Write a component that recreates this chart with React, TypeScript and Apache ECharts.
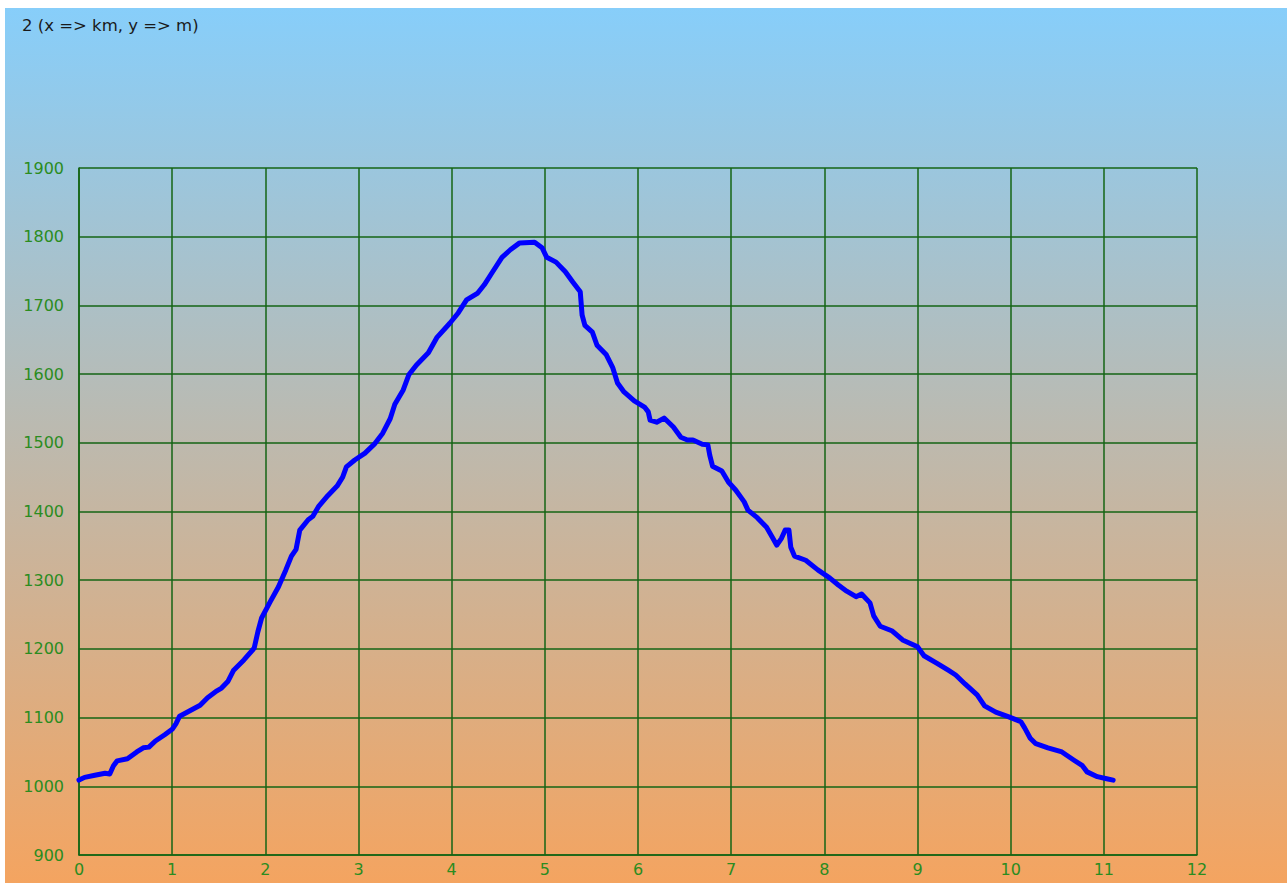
import React, { useEffect, useRef } from "react";
import * as echarts from "echarts";

const titleText = "2 (x => km, y => m)";
const xTicks = { min: 0, max: 12, interval: 1 };
const yTicks = { min: 900, max: 1900, interval: 100 };

const distanceKm = [
  0, 0.06, 0.17, 0.28, 0.33, 0.37, 0.41, 0.52, 0.62, 0.69, 0.75, 0.82, 0.92, 1.0, 1.04, 1.08,
  1.19, 1.3, 1.38, 1.48, 1.53, 1.6, 1.66, 1.77, 1.88, 1.92, 1.96, 2.05, 2.14, 2.22, 2.28, 2.33,
  2.37, 2.46, 2.51, 2.57, 2.67, 2.77, 2.83, 2.87, 2.96, 3.07, 3.17, 3.26, 3.34, 3.39, 3.48, 3.54,
  3.62, 3.75, 3.84, 3.98, 4.07, 4.16, 4.28, 4.35, 4.44, 4.54, 4.63, 4.73, 4.89, 4.97, 5.02, 5.12,
  5.22, 5.3, 5.38, 5.4, 5.43, 5.51, 5.56, 5.66, 5.73, 5.78, 5.85, 5.96, 6.07, 6.11, 6.13, 6.2,
  6.28, 6.38, 6.46, 6.53, 6.59, 6.69, 6.75, 6.77, 6.8, 6.9, 6.97, 7.05, 7.14, 7.18, 7.28, 7.38,
  7.44, 7.49, 7.54, 7.58, 7.62, 7.64, 7.68, 7.8, 7.93, 8.06, 8.15, 8.24, 8.34, 8.4, 8.49, 8.53,
  8.6, 8.73, 8.84, 9.0, 9.07, 9.21, 9.33, 9.41, 9.51, 9.64, 9.72, 9.84, 9.98, 10.11, 10.15, 10.21,
  10.27, 10.4, 10.55, 10.68, 10.77, 10.82, 10.93, 11.03, 11.1,
];

const elevationM = [
  1009, 1013, 1016, 1019, 1018, 1030, 1037, 1040, 1050, 1056, 1057, 1066, 1075, 1083, 1091, 1102,
  1110, 1118, 1129, 1139, 1143, 1153, 1169, 1184, 1201, 1225, 1245, 1268, 1290, 1315, 1335, 1345,
  1373, 1388, 1393, 1407, 1423, 1437, 1450, 1465, 1475, 1485, 1498, 1514, 1535, 1556, 1577, 1599,
  1613, 1631, 1653, 1674, 1689, 1708, 1718, 1730, 1749, 1770, 1781, 1791, 1792, 1784, 1770, 1763,
  1749, 1734, 1720, 1686, 1671, 1661, 1642, 1628, 1609, 1587, 1574, 1561, 1552, 1545, 1533, 1530,
  1536, 1523, 1508, 1504, 1504, 1498, 1497, 1482, 1466, 1459, 1443, 1431, 1414, 1402, 1391, 1377,
  1363, 1351, 1361, 1373, 1373, 1348, 1335, 1329, 1315, 1303, 1293, 1284, 1276, 1280, 1267, 1248,
  1233, 1226, 1213, 1203, 1190, 1179, 1169, 1162, 1149, 1133, 1117, 1108, 1101, 1094, 1085, 1070,
  1062, 1056, 1050, 1038, 1030, 1021, 1014, 1011, 1009,
];

export default function App() {
  const ref = useRef<HTMLDivElement>(null);

  useEffect(() => {
    if (!ref.current) return;
    const chart = echarts.init(ref.current, undefined, { renderer: "svg" });
    const gridColor = "#156515";
    const labelColor = "#2b8c1f";
    const font = "DejaVu Sans";
    chart.setOption({
      animation: false,
      backgroundColor: new echarts.graphic.LinearGradient(0, 0, 0, 1, [
        { offset: 0, color: "#87cefa" },
        { offset: 1, color: "#f4a460" },
      ]),
      title: {
        text: titleText,
        left: 12,
        top: 4,
        textStyle: { color: "#1a1a1a", fontSize: 16.5, fontWeight: "normal", fontFamily: font },
      },
      grid: { left: 74, top: 160, right: 90, bottom: 28, containLabel: false },
      xAxis: {
        type: "value",
        min: xTicks.min,
        max: xTicks.max,
        interval: xTicks.interval,
        axisLine: { show: true, lineStyle: { color: gridColor, width: 1.5 } },
        axisTick: { show: false },
        axisLabel: {
          color: labelColor,
          fontSize: 16,
          fontFamily: font,
          margin: 6,
          formatter: (v: number) => String(v),
        },
        splitLine: { show: true, lineStyle: { color: gridColor, width: 1.5 } },
      },
      yAxis: {
        type: "value",
        min: yTicks.min,
        max: yTicks.max,
        interval: yTicks.interval,
        axisLine: { show: true, lineStyle: { color: gridColor, width: 1.5 } },
        axisTick: { show: false },
        axisLabel: {
          color: labelColor,
          fontSize: 16,
          fontFamily: font,
          margin: 15,
          formatter: (v: number) => String(v),
        },
        splitLine: { show: true, lineStyle: { color: gridColor, width: 1.5 } },
      },
      series: [
        {
          type: "line",
          data: distanceKm.map((d, i) => [d, elevationM[i]]),
          showSymbol: false,
          symbol: "none",
          lineStyle: { color: "#0000ff", width: 5, join: "round", cap: "round" },
        },
      ],
    });
    return () => chart.dispose();
  }, []);

  return (
    <div
      ref={ref}
      style={{ position: "absolute", left: 5, top: 8, width: 1282, height: 875 }}
    />
  );
}
